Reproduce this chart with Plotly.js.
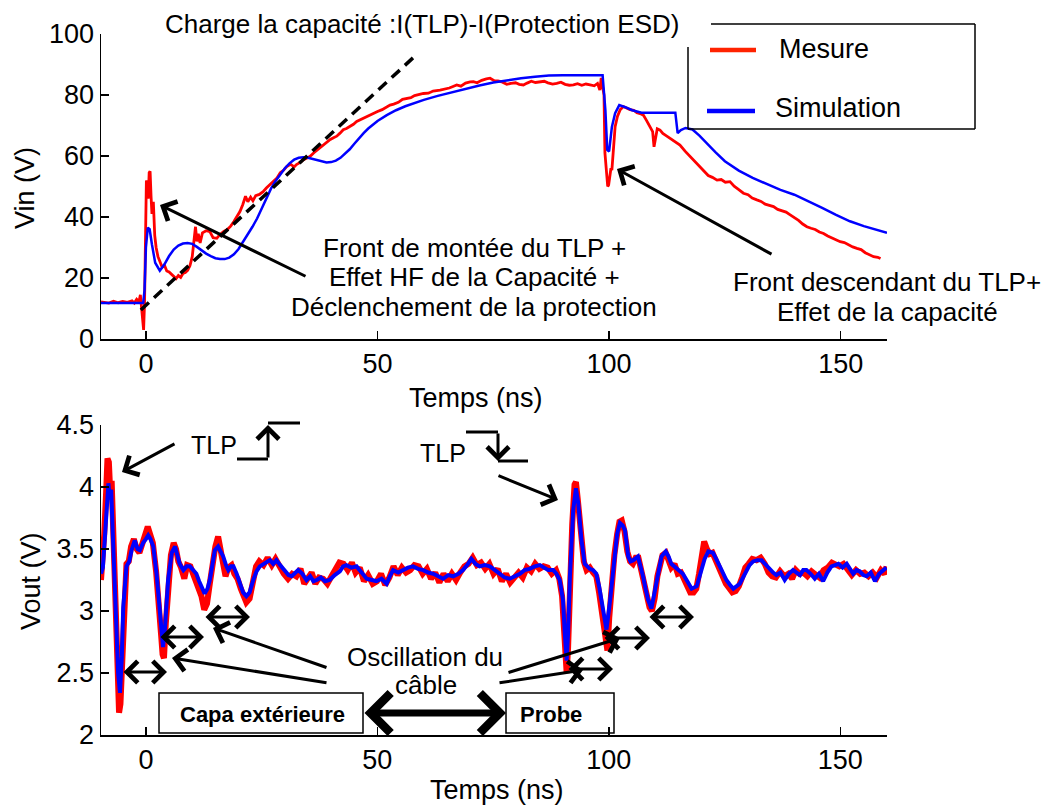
<!DOCTYPE html>
<html>
<head>
<meta charset="utf-8">
<script src="https://cdn.plot.ly/plotly-3.0.1.min.js"></script>
<style>html,body{margin:0;padding:0;background:#fff;}#chart{width:1048px;height:806px;}</style>
</head>
<body>
<div id="chart"></div>
<script>
// ---------------- DATA ----------------
// Top panel: Vin (V) vs Temps (ns)
const vinSimT = [-9.7,-1,-0.6,-0.3,0,0.4,0.8,1.3,2,3,4,5,6,7,8,9,10,11,12,13,14,15,16,17,18,19,20,21,22,23,24,25,26,27,28,29,30,31,32,33,34,35,36,37,38,39,40,41,42,43,44,45,46,47,48,50,52,54,56,58,60,63,66,69,72,75,78,81,84,87,90,93,96,98.6,99.2,99.6,100,100.6,101.3,102.2,103.5,105,107,110,113,114.3,114.8,115.5,116.5,118,119.5,121,123,125,128,131,134,137,140,143,146,149,152,155,158,160];
const vinSimV = [11.8,11.8,11.8,16,30,36.5,36,31,25,22.4,24.5,27.2,29.3,30.6,31.3,31.5,31.2,30.2,29,28,27.2,26.5,26.2,26.2,26.7,27.8,29.5,31.8,34.4,36.8,39.5,42.8,46,49.3,51.8,54,56,57.6,58.8,59.4,59.6,59.4,59,58.5,58.1,57.9,58,58.5,59.4,60.7,62.2,64,65.8,67.5,69,71.5,73.4,75,76.3,77.4,78.4,79.7,80.9,82,83.1,84.1,84.9,85.5,86,86.4,86.5,86.5,86.5,86.5,75,62,61.5,69.5,74,76.7,76,75,74.2,74.2,74.2,74.2,67.5,68.5,69.2,68.7,66.7,64.3,61.2,58.3,55.2,52.8,50.8,48.9,47.3,45.2,43,40.7,38.6,37,35.6,34.8];

const vinMesT = [-9.7,-8,-7,-6,-5,-4,-3,-2.5,-2,-1.5,-1.2,-0.9,-0.7,-0.5,-0.3,-0.1,0,0.1,0.3,0.5,0.7,0.9,1.1,1.3,1.6,1.9,2.2,2.6,3,3.5,4,4.5,5,5.5,6,6.5,7,7.5,8,8.5,9,9.5,10,10.4,10.7,11,11.3,11.7,12.2,13,13.8,14.5,15.3,16,16.8,17.5,18.3,19,19.6,20.3,20.9,21.5,22,22.6,23.1,23.7,24.5,25.3,26,26.8,27.5,28.3,29,29.7,30.4,31.2,32,32.5,33.3,34,34.7,35.4,36.2,37,37.6,38.3,39,39.8,40.5,41.2,41.9,42.6,43.3,44,44.8,45.5,46.3,47,48,49,50,51,52,52.7,53.5,54.5,55.4,56.3,57.2,58,59,59.9,61,62,63.5,64.5,65.5,66.3,67.1,68,69,70,70.7,71.5,72.5,73.5,74.3,75.2,76,77,77.9,78.8,79.8,80.6,81.5,82.3,83.2,84.1,85.1,86,86.8,87.8,88.7,89.6,90.5,91.4,92.3,93.2,94.1,95,95.9,96.8,97.5,98,98.3,98.6,98.9,99.1,99.4,99.7,99.9,100.1,100.4,100.6,100.9,101.3,101.8,102.4,103.1,103.8,104.5,105.3,106,106.7,107.4,108.1,108.8,109.4,109.7,110,110.4,111,111.6,112.3,113.2,114.2,115.3,116.4,117.5,118.5,119.5,120.4,121.4,122.3,123.3,124.2,125.1,126.1,127,128,129,130,130.9,131.9,132.8,133.7,134.6,135.5,136.4,137.3,138.2,139.1,140,140.9,141.8,142.7,143.6,144.5,145.4,146.3,147.2,148.1,149,149.9,150.8,151.7,152.6,153.5,154.4,155.3,156.2,157.1,158,158.6];
const vinMesV = [12.2,11.8,12.4,11.9,12.3,12,12.5,11.8,13,12.2,14.5,10,6,3,12,34,44,52,51,46,54.5,55,47,41,45,34,30,27,25.5,23.5,24.2,22.3,22,21.3,20.5,19.8,20.8,20.2,21.5,21.8,22.5,24,27,33,36.8,32,34.5,31.5,34.8,35.5,35.2,33.2,33,34.3,35.3,35.8,37,38.5,40.1,41.8,44,46.8,45,46.5,45.3,47,47.4,48.3,49.5,50.6,51.6,52.8,54.5,55.3,56.5,57.3,56.4,57.2,57.9,58.8,59.3,59.8,61,62,62.5,63.6,64.3,65.4,66,66.5,67.5,68.6,69,69.6,70.4,71.3,71.9,72.6,73.1,74,74.6,75.2,76,76.7,77,77.6,78.6,78.9,79.1,79.8,80.3,80.5,80.6,81.3,81.6,81.9,82.3,82.8,83.3,82.9,83.9,84.3,84.4,84,84.8,85.3,85.5,84.7,84.6,84.2,83.5,83.8,84,83.5,83.3,83.9,84.5,84.1,84.4,84.5,84,83.6,83.8,84.2,83.5,83.2,83.3,83.7,83.2,83.6,83.3,83,83.8,81.6,85.6,83,80,61,55,50,50.5,53,56,55.4,62,69.6,73,75.2,76.2,75.6,75.2,75,74.2,73.9,73.4,71.6,69.9,68,63,66,68.9,68.5,67.4,66.7,65.8,64.6,63.6,61.6,59.8,58.3,56.6,55.4,53.6,53,52.1,52.3,51.4,51.6,50.1,49,47.8,47.3,46.2,45.6,45.1,44.2,43.9,43.4,42.5,42,41.6,40.7,39.8,38.9,37.7,36.8,36.3,35.9,35.1,34.6,33.8,33.2,32.4,31.9,31.6,30.8,30.2,29.7,29.3,28.3,27.7,27,26.8,26.4];

// Dashed guide "Charge la capacité"
const chargeX = [-1.1, 58.1];
const chargeY = [9.5, 92.8];

// Bottom panel: Vout (V) vs Temps (ns)
const voutSimT = [-9.7,-9.3,-8.9,-8.5,-8.1,-7.8,-7.5,-7.1,-6.7,-6.3,-6.0,-5.6,-5.2,-4.9,-4.5,-4.2,-3.6,-3.1,-2.4,-1.8,-1.3,-0.6,0.0,0.5,1.0,1.6,2.3,3.0,3.4,3.7,4.1,4.8,5.6,6.3,6.8,7.3,8.1,8.8,9.5,10.2,10.9,11.5,12.0,12.7,13.3,13.8,14.4,14.9,15.6,16.2,16.7,17.3,17.8,18.4,18.9,19.6,20.3,21.0,21.7,22.4,23.2,23.9,24.6,25.5,26.8,27.5,28.2,29.0,30.0,30.8,31.5,32.2,32.9,33.8,34.7,35.5,36.2,36.9,37.8,38.7,39.7,40.8,41.9,42.6,43.3,44.4,45.5,46.6,47.7,48.8,49.8,50.9,52.0,52.7,53.4,54.5,55.6,56.6,57.7,58.8,59.9,61.0,62.1,63.2,64.2,65.3,66.4,67.5,68.5,69.4,70.3,71.2,72.1,73.2,74.3,75.4,76.5,77.5,78.6,79.7,80.8,81.8,82.9,84.0,85.1,86.0,86.9,88.0,88.7,89.4,90.1,90.5,90.9,91.2,91.6,92.3,92.9,93.4,94.1,94.8,95.3,95.9,96.6,97.3,97.9,98.4,99.1,99.5,100.2,100.8,101.3,101.8,102.4,103.0,103.5,104.2,104.7,105.3,106.3,106.9,107.4,108.0,108.5,109.2,109.7,110.3,110.9,111.4,112.3,112.9,113.5,114.4,115.3,116.0,116.8,117.4,117.9,119.0,119.5,120.0,120.7,121.5,122.5,123.2,124.0,124.7,125.4,126.2,126.9,128.3,129.0,129.7,130.4,131.2,132.1,133.0,133.9,134.8,135.5,136.2,137.1,138.0,138.9,139.8,140.5,141.3,142.0,142.7,143.6,144.5,145.4,146.3,147.2,148.1,148.9,149.6,150.5,151.4,152.1,152.8,153.5,154.2,155.0,155.7,156.6,157.5,158.4,159.3,160.0];
const voutSimV = [3.30,3.35,3.57,3.85,4.03,3.90,3.98,3.57,3.20,2.90,2.50,2.34,2.63,3.03,3.25,3.36,3.40,3.49,3.57,3.50,3.49,3.55,3.58,3.61,3.58,3.52,3.30,3.03,2.82,2.71,2.85,3.25,3.47,3.52,3.45,3.38,3.33,3.36,3.36,3.33,3.30,3.24,3.20,3.14,3.18,3.25,3.38,3.49,3.52,3.48,3.44,3.37,3.33,3.36,3.36,3.30,3.22,3.15,3.12,3.15,3.25,3.32,3.36,3.38,3.41,3.38,3.41,3.37,3.33,3.29,3.28,3.31,3.33,3.30,3.25,3.28,3.24,3.25,3.27,3.24,3.25,3.29,3.32,3.36,3.37,3.35,3.36,3.31,3.26,3.25,3.24,3.26,3.22,3.28,3.33,3.31,3.33,3.35,3.36,3.34,3.33,3.31,3.30,3.28,3.26,3.29,3.28,3.30,3.33,3.37,3.42,3.38,3.36,3.37,3.36,3.33,3.30,3.27,3.26,3.28,3.30,3.33,3.34,3.36,3.37,3.35,3.33,3.33,3.30,3.25,3.09,2.82,2.60,2.82,3.28,3.81,3.99,3.87,3.57,3.38,3.36,3.34,3.33,3.30,3.20,3.09,2.90,2.85,3.06,3.28,3.47,3.62,3.71,3.69,3.65,3.44,3.40,3.41,3.44,3.36,3.28,3.17,3.09,3.02,3.12,3.25,3.36,3.44,3.48,3.44,3.38,3.35,3.33,3.30,3.25,3.21,3.18,3.20,3.26,3.33,3.42,3.48,3.47,3.42,3.36,3.30,3.25,3.21,3.18,3.22,3.27,3.33,3.37,3.40,3.41,3.41,3.37,3.33,3.31,3.29,3.31,3.25,3.30,3.33,3.31,3.29,3.33,3.33,3.30,3.26,3.30,3.24,3.31,3.36,3.37,3.38,3.35,3.38,3.34,3.30,3.33,3.32,3.29,3.28,3.31,3.24,3.30,3.33,3.35];

const voutMesT = [-9.7,-9.3,-9.0,-8.6,-8.3,-8.0,-7.7,-7.4,-7.1,-6.8,-6.4,-6.1,-5.8,-5.5,-5.2,-4.9,-4.6,-4.2,-3.7,-3.2,-2.6,-2.0,-1.4,-0.8,-0.2,0.4,0.9,1.5,2.2,2.9,3.3,3.6,3.9,4.3,4.8,5.4,6.0,6.5,7.0,7.6,8.3,8.9,9.6,10.2,10.8,11.4,12.0,12.6,13.2,13.8,14.4,15.0,15.6,16.1,16.7,17.2,17.8,18.5,19.1,19.8,20.5,21.2,21.7,22.4,23.1,23.8,24.5,25.4,26.3,27.2,28.0,28.9,29.8,30.7,31.6,32.5,33.4,34.2,35.0,35.8,36.6,37.4,38.3,39.2,40.1,41.0,41.8,42.7,43.6,44.5,45.3,46.2,47.1,48.0,49.0,49.9,50.8,51.7,52.6,53.5,54.4,55.3,56.2,57.1,58.0,58.9,59.8,60.7,61.6,62.5,63.4,64.3,65.2,66.1,67.0,67.9,68.8,69.7,70.6,71.5,72.4,73.3,74.2,75.1,76.0,76.9,77.8,78.7,79.6,80.5,81.4,82.3,83.2,84.1,85.0,85.9,86.8,87.7,88.6,89.3,89.9,90.3,90.6,90.9,91.2,91.6,92.1,92.6,92.9,93.3,93.9,94.6,95.2,95.9,96.6,97.3,97.9,98.5,99.0,99.4,99.7,100.1,100.7,101.2,101.8,102.3,102.8,103.4,104.0,104.6,105.2,105.8,106.4,107.0,107.6,108.2,108.8,109.3,109.9,110.5,111.1,111.6,112.3,112.9,113.5,114.2,114.9,115.6,116.3,117.0,117.6,118.3,118.9,119.5,120.1,120.6,121.2,121.8,122.4,123.1,123.8,124.6,125.3,126.0,126.7,127.4,128.1,128.8,129.5,130.2,131.0,131.9,132.8,133.7,134.5,135.3,136.1,137.0,137.9,138.8,139.6,140.4,141.2,142.0,142.9,143.8,144.7,145.5,146.4,147.3,148.2,149.0,149.8,150.7,151.6,152.5,153.4,154.3,155.2,156.1,157.0,157.9,158.8,159.6,160.0];
const voutMesV = [3.25,3.40,3.62,3.95,4.23,4.20,3.95,4.05,3.62,3.15,2.70,2.35,2.18,2.25,2.55,2.95,3.28,3.38,3.40,3.52,3.58,3.50,3.47,3.55,3.60,3.68,3.62,3.55,3.32,3.05,2.80,2.65,2.62,2.90,3.22,3.45,3.55,3.50,3.40,3.35,3.26,3.37,3.36,3.30,3.27,3.20,3.12,3.01,3.06,3.22,3.40,3.52,3.60,3.50,3.40,3.28,3.35,3.37,3.30,3.26,3.18,3.10,3.07,3.10,3.22,3.36,3.40,3.37,3.43,3.37,3.42,3.35,3.30,3.26,3.30,3.28,3.34,3.22,3.26,3.31,3.22,3.27,3.26,3.22,3.28,3.34,3.39,3.38,3.33,3.39,3.31,3.35,3.24,3.29,3.22,3.24,3.30,3.21,3.27,3.36,3.29,3.35,3.31,3.33,3.37,3.36,3.30,3.34,3.26,3.31,3.23,3.30,3.24,3.30,3.25,3.31,3.36,3.38,3.43,3.37,3.39,3.34,3.38,3.30,3.34,3.24,3.30,3.23,3.28,3.31,3.27,3.35,3.32,3.38,3.34,3.36,3.35,3.30,3.33,3.26,3.12,2.90,2.62,2.50,2.70,3.25,3.70,4.02,4.04,3.90,3.60,3.40,3.33,3.35,3.31,3.28,3.15,3.00,2.82,2.72,2.68,2.95,3.25,3.45,3.62,3.72,3.73,3.64,3.48,3.40,3.38,3.43,3.43,3.33,3.22,3.12,3.03,3.00,3.10,3.28,3.40,3.45,3.47,3.40,3.35,3.38,3.30,3.31,3.25,3.19,3.15,3.15,3.18,3.30,3.45,3.56,3.50,3.46,3.47,3.40,3.35,3.28,3.22,3.18,3.15,3.16,3.20,3.27,3.35,3.38,3.42,3.41,3.43,3.38,3.31,3.28,3.27,3.32,3.28,3.30,3.26,3.33,3.30,3.31,3.28,3.32,3.29,3.27,3.33,3.35,3.39,3.37,3.36,3.38,3.34,3.29,3.33,3.30,3.31,3.28,3.31,3.27,3.33,3.30,3.36];

const xTicks = [0, 50, 100, 150];
const vinTicks = [0, 20, 40, 60, 80, 100];
const voutTicks = [2, 2.5, 3, 3.5, 4, 4.5];
const voutTickText = ['2', '2.5', '3', '3.5', '4', '4.5'];
const seriesNames = ['Mesure', 'Simulation'];

// ---------------- LAYOUT ----------------
const FONT = 'Liberation Sans, Arial, Helvetica, sans-serif';
const RED = '#ff0000', BLUE = '#0000ff';
const ML = 101, MT = 34, PW = 786, PH = 701;
const fx = p => (p - ML) / PW;
const fy = p => (MT + PH - p) / PH;

const traces = [
  {x: vinMesT, y: vinMesV, xaxis: 'x', yaxis: 'y', mode: 'lines', name: seriesNames[0], line: {color: RED, width: 2.8}, showlegend: false},
  {x: vinSimT, y: vinSimV, xaxis: 'x', yaxis: 'y', mode: 'lines', name: seriesNames[1], line: {color: BLUE, width: 2.5}, showlegend: false},
  {x: chargeX, y: chargeY, xaxis: 'x', yaxis: 'y', mode: 'lines', line: {color: 'black', width: 3.5, dash: '11px,7px'}, showlegend: false, hoverinfo: 'skip'},
  {x: voutMesT, y: voutMesV, xaxis: 'x2', yaxis: 'y2', mode: 'lines', name: seriesNames[0], line: {color: RED, width: 6}, showlegend: false},
  {x: voutSimT, y: voutSimV, xaxis: 'x2', yaxis: 'y2', mode: 'lines', name: seriesNames[1], line: {color: BLUE, width: 4}, showlegend: false}
];

const axBase = {
  showline: true, linecolor: 'black', linewidth: 1.5, mirror: false,
  ticks: 'inside', ticklen: 8, tickwidth: 1.5, tickcolor: 'black',
  showgrid: false, zeroline: false,
  tickfont: {family: FONT, size: 27, color: 'black'}
};

const annotations = [];
function txt(s, px, py, size, opts) {
  annotations.push(Object.assign({
    text: s, x: fx(px), y: fy(py), xref: 'paper', yref: 'paper',
    xanchor: 'center', yanchor: 'middle', showarrow: false,
    font: {family: FONT, size: size, color: 'black'}
  }, opts || {}));
}
function arrow(hx, hy, tx, ty, w, both, size) {
  annotations.push({
    text: '', x: fx(hx), y: fy(hy), xref: 'paper', yref: 'paper',
    ax: tx - hx, ay: ty - hy, axref: 'pixel', ayref: 'pixel',
    showarrow: true, arrowhead: 4, arrowsize: size || 1.4, arrowwidth: w, arrowcolor: 'black',
    arrowside: both ? 'end+start' : 'end', startarrowhead: 4, startarrowsize: size || 1.4,
    standoff: 0, startstandoff: 0
  });
}

// axis titles
txt('Vin (V)', 25, 188, 27, {textangle: -90});
txt('Temps (ns)', 476, 398, 27);
txt('Vout (V)', 31, 581, 27, {textangle: -90});
txt('Temps (ns)', 497, 790, 27);

// top panel texts
txt('Charge la capacité :I(TLP)-I(Protection ESD)', 422, 24, 26);
txt('Front de montée du TLP +', 474, 248, 26);
txt('Effet HF de la Capacité +', 474, 277, 26);
txt('Déclenchement de la protection', 474, 307, 26);
txt('Front descendant du TLP+', 887, 282, 26);
txt('Effet de la capacité', 887, 312, 26);
arrow(160, 205, 307, 277, 3);
arrow(617, 169, 773, 255, 3);

// legend
txt(seriesNames[0], 777, 49, 27, {xanchor: 'left'});
txt(seriesNames[1], 773, 108, 27, {xanchor: 'left'});

// bottom panel texts
txt('TLP', 214, 445, 25);
txt('TLP', 443, 453, 25);
txt('Oscillation du', 425, 657, 26);
txt('câble', 426, 685, 26);
txt('<b>Capa extérieure</b>', 262, 714, 22);
txt('<b>Probe</b>', 551, 714, 22);

arrow(122, 472, 176, 443, 3);
arrow(558, 500, 497, 475, 3);
arrow(268, 425, 268, 459, 3);
arrow(498, 461, 498, 432, 3);
// cable oscillation periods
arrow(167, 672, 122, 672, 3, true);
arrow(204, 637, 159, 637, 3, true);
arrow(250, 617, 204, 617, 3, true);
arrow(613, 669, 567, 669, 3, true);
arrow(650, 638, 603, 638, 3, true);
arrow(694, 617, 648, 617, 3, true);
// pointers from label
arrow(213, 628, 328, 668, 3);
arrow(172, 658, 328, 683, 3);
arrow(620, 638, 507, 673, 3);
arrow(583, 670, 498, 683, 3);
// big arrow between boxes
arrow(506, 713, 363, 713, 7, true, 1.1);

const shapes = [];
function seg(x0, y0, x1, y1, w, color) {
  shapes.push({type: 'line', xref: 'paper', yref: 'paper', x0: fx(x0), y0: fy(y0), x1: fx(x1), y1: fy(y1),
    line: {color: color || 'black', width: w}});
}
function box(x0, y0, x1, y1) {
  shapes.push({type: 'rect', xref: 'paper', yref: 'paper', x0: fx(x0), y0: fy(y0), x1: fx(x1), y1: fy(y1),
    line: {color: 'black', width: 1.5}, fillcolor: 'white', layer: 'below'});
}
// legend frame (open at top-left corner as in the figure)
seg(711, 24, 975, 24, 1.5);
seg(975, 24, 975, 129, 1.5);
seg(688, 129, 975, 129, 1.5);
seg(688, 47, 688, 129, 1.5);
seg(710, 50, 756, 50, 4.5, '#ff2200');
seg(707, 111, 755, 111, 4.5, BLUE);
// TLP step symbols
seg(237, 459, 268, 459, 3);
seg(268, 423, 300, 423, 3);
seg(466, 432, 498, 432, 3);
seg(498, 461, 528, 461, 3);
// boxes
box(159, 693, 363, 733);
box(506, 693, 614, 733);

const layout = {
  width: 1048, height: 806,
  margin: {l: ML, r: 1048 - ML - PW, t: MT, b: 806 - MT - PH, pad: 0},
  paper_bgcolor: 'white', plot_bgcolor: 'rgba(0,0,0,0)',
  showlegend: false,
  font: {family: FONT, color: 'black'},
  xaxis: Object.assign({}, axBase, {domain: [0, 1], anchor: 'y', range: [-9.7, 160], tickvals: xTicks}),
  yaxis: Object.assign({}, axBase, {domain: [396 / 701, 1], anchor: 'x', range: [0, 100], tickvals: vinTicks}),
  xaxis2: Object.assign({}, axBase, {domain: [0, 1], anchor: 'y2', range: [-9.7, 160.1], tickvals: xTicks}),
  yaxis2: Object.assign({}, axBase, {domain: [0, 310 / 701], anchor: 'x2', range: [2, 4.5], tickvals: voutTicks, ticktext: voutTickText}),
  annotations: annotations,
  shapes: shapes
};

Plotly.newPlot('chart', traces, layout, {displayModeBar: false, staticPlot: true});
</script>
</body>
</html>
